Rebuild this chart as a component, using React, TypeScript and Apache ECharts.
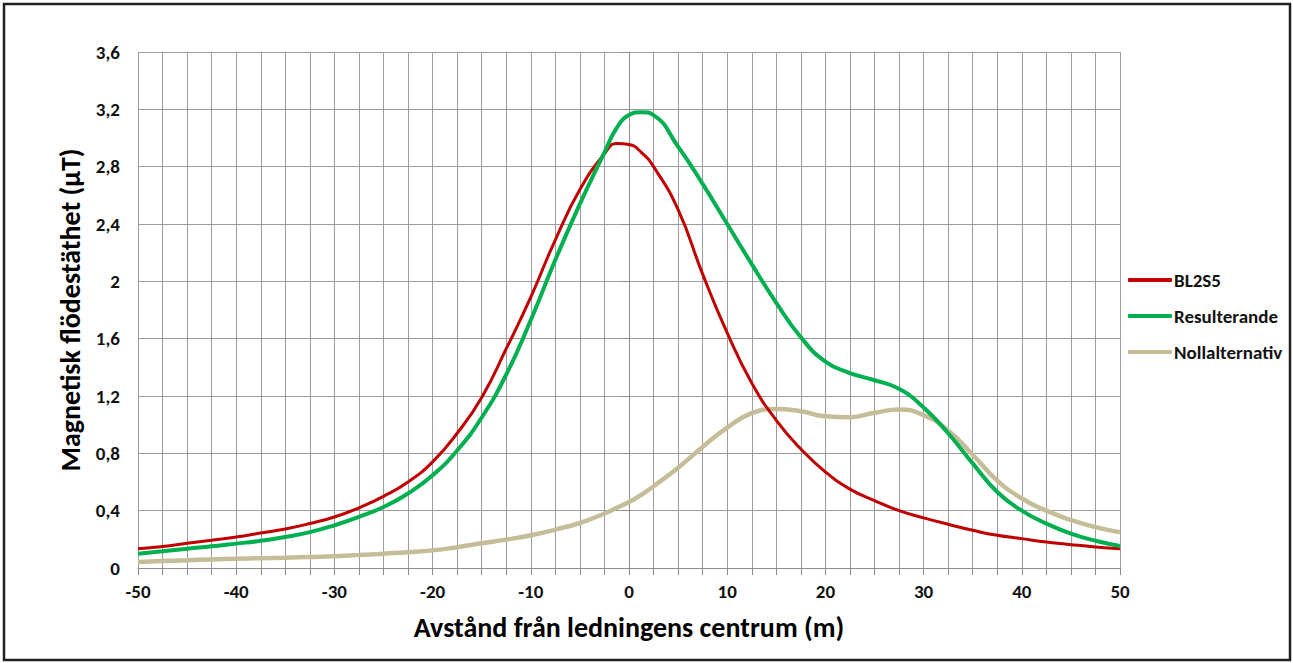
import React, { useEffect, useRef } from "react";
import * as echarts from "echarts";

const distances = [
  -50, -47.5, -45, -42.5, -40, -37.5, -35, -32.5, -30, -27.5, -25, -22.5, -20, -17.5, -15, -12.5, -10, -7.5, -5, -2.5,
  -1.25, 0, 1.25, 2.5, 5, 7.5, 10, 12.5, 15, 17.5, 20, 22.5, 25, 27.5, 30, 32.5, 35, 37.5, 40, 42.5, 45, 47.5, 50,
];

const bl2s5 = [
  0.135, 0.15, 0.172, 0.193, 0.216, 0.244, 0.272, 0.31, 0.356, 0.42, 0.5, 0.6, 0.74, 0.94, 1.19, 1.53, 1.89, 2.29, 2.64, 2.89,
  2.962, 2.955, 2.9, 2.8, 2.5, 2.05, 1.64, 1.29, 1.03, 0.83, 0.67, 0.55, 0.47, 0.4, 0.35, 0.305, 0.263, 0.228, 0.205, 0.181, 0.163, 0.147, 0.135,
];

const resulterande = [
  0.1, 0.117, 0.135, 0.151, 0.17, 0.19, 0.216, 0.25, 0.298, 0.356, 0.426, 0.52, 0.647, 0.82, 1.05, 1.35, 1.73, 2.15, 2.54, 2.9,
  3.07, 3.16, 3.18, 3.16, 2.94, 2.68, 2.4, 2.12, 1.85, 1.61, 1.44, 1.36, 1.31, 1.25, 1.12, 0.94, 0.73, 0.53, 0.4, 0.31, 0.24, 0.19, 0.154,
];

const nollalternativ = [
  0.042, 0.048, 0.054, 0.06, 0.065, 0.068, 0.072, 0.077, 0.082, 0.09, 0.1, 0.11, 0.123, 0.145, 0.172, 0.198, 0.228, 0.268, 0.314, 0.38,
  0.42, 0.46, 0.51, 0.57, 0.7, 0.845, 0.98, 1.08, 1.11, 1.093, 1.058, 1.052, 1.083, 1.105, 1.066, 0.96, 0.79, 0.61, 0.485, 0.4, 0.335, 0.285, 0.25,
];

const seriesNames = ["BL2S5", "Resulterande", "Nollalternativ"];
const xTitle = "Avstånd från ledningens centrum (m)";
const yTitle = "Magnetisk flödestäthet (µT)";

const FONT = "Carlito, 'Open Sans', 'Liberation Sans', sans-serif";

export default function App() {
  const ref = useRef<HTMLDivElement>(null);

  useEffect(() => {
    if (!ref.current) return;
    const chart = echarts.init(ref.current, null, { renderer: "svg" });
    const pairs = (vals: number[]) => distances.map((d, i) => [d, vals[i]]);
    const fmt = (v: number) => String(+v.toFixed(1)).replace(".", ",");
    const gridColor = "#9c9c9c";

    chart.setOption({
      animation: false,
      backgroundColor: "#ffffff",
      textStyle: { fontFamily: FONT },
      grid: { left: 138, right: 173, top: 52, bottom: 95, containLabel: false },
      legend: {
        orient: "vertical",
        left: 1128,
        top: 270,
        padding: 0,
        icon: "roundRect",
        itemWidth: 44,
        itemHeight: 4,
        itemGap: 16,
        data: seriesNames,
        textStyle: {
          fontSize: 19,
          fontWeight: "bold",
          color: "#111",
          fontFamily: FONT,
          lineHeight: 20,
          padding: [0, 0, 0, -3],
        },
      },
      xAxis: {
        type: "value",
        min: -50,
        max: 50,
        interval: 10,
        name: xTitle,
        nameLocation: "middle",
        nameGap: 45,
        nameTextStyle: { fontSize: 28, fontWeight: "bold", color: "#000", fontFamily: FONT },
        axisLine: { show: true, onZero: false, lineStyle: { color: "#8c8c8c", width: 1 } },
        axisTick: { show: true, length: 7, lineStyle: { color: "#8c8c8c" } },
        minorTick: { show: true, splitNumber: 4, length: 7, lineStyle: { color: "#8c8c8c" } },
        axisLabel: {
          margin: 14,
          fontSize: 19,
          fontWeight: "bold",
          color: "#111",
          fontFamily: FONT,
          formatter: (v: number) => String(v),
        },
        splitLine: { show: true, lineStyle: { color: gridColor, width: 1 } },
        minorSplitLine: { show: true, lineStyle: { color: gridColor, width: 1 } },
      },
      yAxis: {
        type: "value",
        min: 0,
        max: 3.6,
        interval: 0.4,
        name: yTitle,
        nameLocation: "middle",
        nameGap: 50,
        nameTextStyle: { fontSize: 28, fontWeight: "bold", color: "#000", fontFamily: FONT },
        axisLine: { show: true, lineStyle: { color: "#8c8c8c", width: 1 } },
        axisTick: { show: true, length: 7, lineStyle: { color: "#8c8c8c" } },
        axisLabel: {
          margin: 18,
          fontSize: 19,
          fontWeight: "bold",
          color: "#111",
          fontFamily: FONT,
          formatter: fmt,
        },
        splitLine: { show: true, lineStyle: { color: gridColor, width: 1 } },
      },
      series: [
        {
          name: seriesNames[0],
          type: "line",
          smooth: 0.5,
          symbol: "none",
          z: 3,
          data: pairs(bl2s5),
          lineStyle: { color: "#C00000", width: 3 },
          itemStyle: { color: "#C00000" },
        },
        {
          name: seriesNames[1],
          type: "line",
          smooth: 0.5,
          symbol: "none",
          z: 4,
          data: pairs(resulterande),
          lineStyle: { color: "#00B050", width: 4 },
          itemStyle: { color: "#00B050" },
        },
        {
          name: seriesNames[2],
          type: "line",
          smooth: 0.5,
          symbol: "none",
          z: 2,
          data: pairs(nollalternativ),
          lineStyle: { color: "#C4BD97", width: 4.5 },
          itemStyle: { color: "#C4BD97" },
        },
      ],
      graphic: [
        {
          type: "rect",
          shape: { x: 4, y: 4, width: 1286, height: 656 },
          style: { fill: "none", stroke: "#222", lineWidth: 2.5 },
          silent: true,
        },
      ],
    });

    return () => chart.dispose();
  }, []);

  return (
    <div
      ref={ref}
      style={{ position: "fixed", left: 0, top: 0, width: 1293, height: 663 }}
    />
  );
}
